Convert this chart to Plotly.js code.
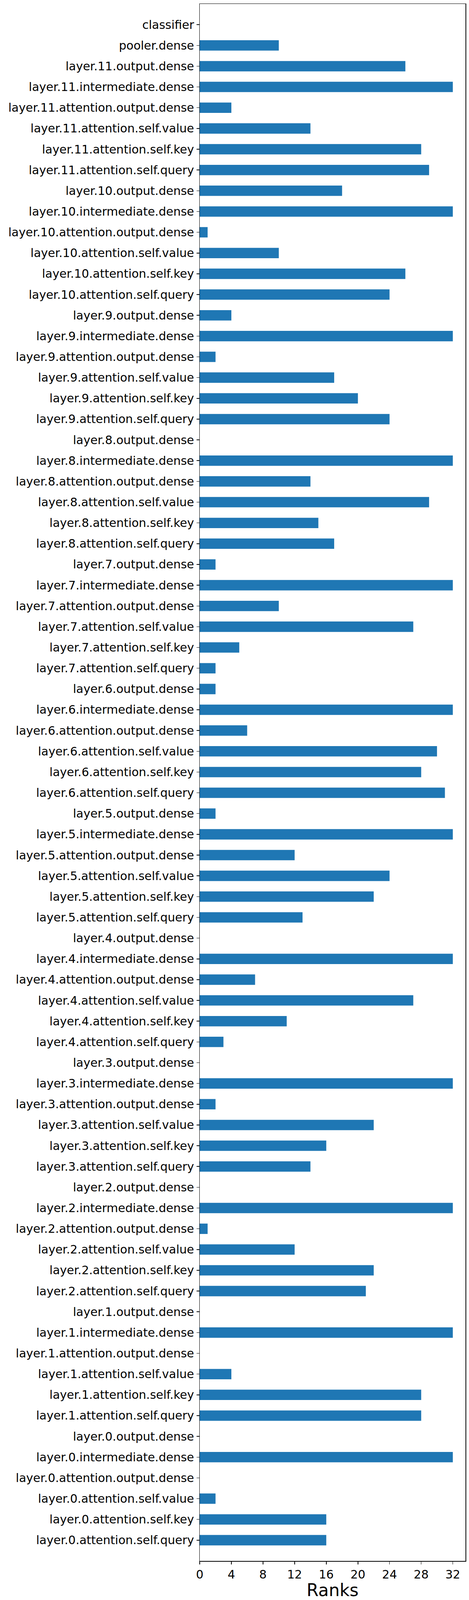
<!DOCTYPE html>
<html>
<head>
<meta charset="utf-8">
<script src="https://cdn.plot.ly/plotly-3.0.1.min.js"></script>
<style>html,body{margin:0;padding:0;background:#fff;overflow:hidden;}</style>
</head>
<body>
<div id="chart"></div>
<script>
// Categories listed top-to-bottom as shown in the chart
const categories = [
  "classifier","pooler.dense",
  "layer.11.output.dense","layer.11.intermediate.dense","layer.11.attention.output.dense","layer.11.attention.self.value","layer.11.attention.self.key","layer.11.attention.self.query",
  "layer.10.output.dense","layer.10.intermediate.dense","layer.10.attention.output.dense","layer.10.attention.self.value","layer.10.attention.self.key","layer.10.attention.self.query",
  "layer.9.output.dense","layer.9.intermediate.dense","layer.9.attention.output.dense","layer.9.attention.self.value","layer.9.attention.self.key","layer.9.attention.self.query",
  "layer.8.output.dense","layer.8.intermediate.dense","layer.8.attention.output.dense","layer.8.attention.self.value","layer.8.attention.self.key","layer.8.attention.self.query",
  "layer.7.output.dense","layer.7.intermediate.dense","layer.7.attention.output.dense","layer.7.attention.self.value","layer.7.attention.self.key","layer.7.attention.self.query",
  "layer.6.output.dense","layer.6.intermediate.dense","layer.6.attention.output.dense","layer.6.attention.self.value","layer.6.attention.self.key","layer.6.attention.self.query",
  "layer.5.output.dense","layer.5.intermediate.dense","layer.5.attention.output.dense","layer.5.attention.self.value","layer.5.attention.self.key","layer.5.attention.self.query",
  "layer.4.output.dense","layer.4.intermediate.dense","layer.4.attention.output.dense","layer.4.attention.self.value","layer.4.attention.self.key","layer.4.attention.self.query",
  "layer.3.output.dense","layer.3.intermediate.dense","layer.3.attention.output.dense","layer.3.attention.self.value","layer.3.attention.self.key","layer.3.attention.self.query",
  "layer.2.output.dense","layer.2.intermediate.dense","layer.2.attention.output.dense","layer.2.attention.self.value","layer.2.attention.self.key","layer.2.attention.self.query",
  "layer.1.output.dense","layer.1.intermediate.dense","layer.1.attention.output.dense","layer.1.attention.self.value","layer.1.attention.self.key","layer.1.attention.self.query",
  "layer.0.output.dense","layer.0.intermediate.dense","layer.0.attention.output.dense","layer.0.attention.self.value","layer.0.attention.self.key","layer.0.attention.self.query"
];

// Ranks in the same top-to-bottom order
const ranks = [
  0, 10,
  26, 32, 4, 14, 28, 29,
  18, 32, 1, 10, 26, 24,
  4, 32, 2, 17, 20, 24,
  0, 32, 14, 29, 15, 17,
  2, 32, 10, 27, 5, 2,
  2, 32, 6, 30, 28, 31,
  2, 32, 12, 24, 22, 13,
  0, 32, 7, 27, 11, 3,
  0, 32, 2, 22, 16, 14,
  0, 32, 1, 12, 22, 21,
  0, 32, 0, 4, 28, 28,
  0, 32, 0, 2, 16, 16
];

const xTicks = [0, 4, 8, 12, 16, 20, 24, 28, 32];
const xTitle = "Ranks";

// The chart is designed at 1200x6000; if the visible window is shorter,
// fit the whole chart into it so that no text is cut off.
const W = 1200;
const H = Math.min(6000, window.innerHeight || 6000);
const sy = H / 6000;
document.getElementById("chart").style.width = W + "px";
document.getElementById("chart").style.height = H + "px";

const yCats = categories.slice().reverse();
const xVals = ranks.slice().reverse();

const trace = {
  type: "bar",
  orientation: "h",
  y: yCats,
  x: xVals,
  width: 0.5,
  marker: {color: "#1f77b4", line: {width: 0}},
  hoverinfo: "x+y"
};

const bottom = Math.max(100, 106 * sy);
const layout = {
  width: W,
  height: H,
  margin: {l: 511, r: 9, t: Math.round(15 * sy), b: Math.round(bottom), pad: 0},
  paper_bgcolor: "#ffffff",
  plot_bgcolor: "#ffffff",
  showlegend: false,
  font: {family: "DejaVu Sans", size: 30, color: "#000000"},
  xaxis: {
    range: [0, 33.6],
    tickvals: xTicks,
    ticktext: xTicks.map(String),
    ticks: "outside",
    ticklen: 7,
    tickwidth: 1.5,
    tickcolor: "#000",
    showline: true,
    linecolor: "#000",
    linewidth: 1.5,
    mirror: true,
    showgrid: false,
    zeroline: false,
    automargin: false,
    tickfont: {family: "DejaVu Sans", size: 30, color: "#000"},
    title: {text: xTitle, font: {family: "DejaVu Sans", size: 44, color: "#000"}, standoff: 10}
  },
  yaxis: {
    type: "category",
    categoryorder: "array",
    categoryarray: yCats,
    range: [-1, yCats.length],
    ticks: "outside",
    ticklen: 7,
    tickwidth: 1.5,
    tickcolor: "#000",
    showline: true,
    linecolor: "#000",
    linewidth: 1.5,
    mirror: true,
    showgrid: false,
    zeroline: false,
    automargin: false,
    tickfont: {family: "DejaVu Sans", size: 30, color: "#000"}
  }
};

Plotly.newPlot("chart", [trace], layout, {staticPlot: true, displayModeBar: false});
</script>
</body>
</html>
